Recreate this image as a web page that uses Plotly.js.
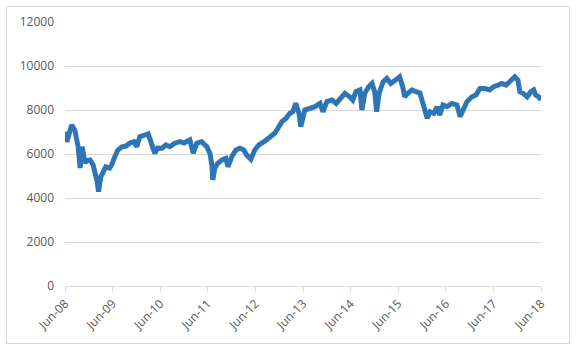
<!DOCTYPE html>
<html>
<head>
<meta charset="utf-8">
<script src="https://cdn.plot.ly/plotly-3.0.1.min.js"></script>
<style>
html,body{margin:0;padding:0;background:#fff;}
#wrap{position:relative;width:578px;height:351px;}
#chart{width:578px;height:351px;}
#frame{position:absolute;left:6px;top:6px;width:564px;height:338px;border:1px solid #d9d9d9;box-sizing:border-box;pointer-events:none;}
</style>
</head>
<body>
<div id="wrap"><div id="chart"></div><div id="frame"></div></div>
<script>
const dates = [
"2008-06-01","2008-06-15","2008-07-22","2008-08-15","2008-09-10","2008-09-25","2008-10-10","2008-11-01","2008-11-15","2008-12-10",
"2009-01-03","2009-01-18","2009-02-03","2009-02-13","2009-03-03","2009-03-18","2009-04-10","2009-05-10","2009-05-25","2009-06-18",
"2009-07-12","2009-08-12","2009-09-12","2009-10-12","2009-11-12","2009-12-03","2009-12-27","2010-03-01","2010-03-28","2010-04-21",
"2010-05-12","2010-06-15","2010-07-15","2010-08-15","2010-09-21","2010-11-01","2010-12-01","2011-01-15","2011-02-10","2011-03-10",
"2011-04-15","2011-05-25","2011-06-18","2011-07-03","2011-07-10","2011-07-25","2011-08-18","2011-09-18","2011-10-18","2011-11-03",
"2011-12-03","2012-01-03","2012-02-03","2012-03-03","2012-03-27","2012-04-27","2012-05-27","2012-06-27","2012-08-06","2012-09-06",
"2012-10-06","2012-10-27","2012-11-21","2012-12-21","2013-01-21","2013-02-21","2013-03-15","2013-04-06","2013-05-01","2013-05-15",
"2013-06-15","2013-07-25","2013-09-01","2013-10-10","2013-11-01","2013-12-01","2014-01-10","2014-02-10","2014-03-10","2014-04-18",
"2014-05-25","2014-06-18","2014-07-12","2014-08-12","2014-08-27","2014-09-18","2014-10-18","2014-11-12","2014-12-03","2014-12-18",
"2015-01-06","2015-02-06","2015-03-06","2015-04-06","2015-05-12","2015-06-12","2015-07-06","2015-07-21","2015-08-15","2015-09-15",
"2015-10-15","2015-11-15","2015-12-01","2015-12-21","2016-01-10","2016-02-01","2016-03-01","2016-03-25","2016-04-15","2016-05-10",
"2016-06-10","2016-07-18","2016-08-25","2016-09-18","2016-10-10","2016-11-10","2016-12-18","2017-01-18","2017-02-18","2017-03-27",
"2017-05-03","2017-06-03","2017-07-06","2017-08-06","2017-09-06","2017-10-06","2017-11-12","2017-12-06","2017-12-21","2018-01-15",
"2018-02-15","2018-03-15","2018-04-06","2018-04-21","2018-05-15","2018-06-01"
];
const values = [
7010,6550,7320,7090,6330,5360,6330,5590,5700,5730,
5500,5200,4740,4290,4970,5140,5420,5360,5500,5880,
6180,6330,6360,6500,6560,6330,6790,6910,6410,6030,
6270,6260,6410,6330,6490,6560,6500,6640,6040,6490,
6560,6330,6030,5500,4820,5350,5580,5730,5800,5420,
5880,6180,6260,6180,5950,5760,6180,6410,6560,6710,
6790,6940,7170,7470,7620,7850,7920,8300,7850,7240,
8000,8080,8150,8300,7920,8380,8450,8300,8530,8760,
8600,8450,8830,8910,8000,8760,9060,9210,8830,7920,
8760,9290,9440,9210,9360,9510,9060,8600,8760,8910,
8830,8770,8450,8000,7620,7920,7850,8150,7770,8230,
8150,8300,8230,7700,8000,8380,8600,8680,8980,8980,
8910,9060,9130,9210,9130,9290,9510,9360,8830,8760,
8600,8830,8910,8680,8600,8450
];
const tickDates = ["2008-06-01","2009-06-01","2010-06-01","2011-06-01","2012-06-01","2013-06-01","2014-06-01","2015-06-01","2016-06-01","2017-06-01","2018-06-01"];
const tickLabels = ["Jun-08","Jun-09","Jun-10","Jun-11","Jun-12","Jun-13","Jun-14","Jun-15","Jun-16","Jun-17","Jun-18"];
const yTicks = [0,2000,4000,6000,8000,10000,12000];

const trace = {
  x: dates, y: values, type: 'scatter', mode: 'lines',
  line: {color: '#2e75b6', width: 5, shape: 'linear'},
  hoverinfo: 'skip', showlegend: false
};
const font = {family: 'Open Sans, Liberation Sans, sans-serif', size: 12, color: '#595959'};
const layout = {
  width: 578, height: 351,
  margin: {l: 65, r: 37, t: 22, b: 65, pad: 0},
  paper_bgcolor: '#ffffff', plot_bgcolor: '#ffffff',
  font: font,
  showlegend: false,
  xaxis: {
    type: 'date', range: ['2008-06-01','2018-06-01'],
    tickmode: 'array', tickvals: tickDates, ticktext: tickLabels,
    tickangle: -45, ticks: 'outside', ticklen: 5, tickcolor: '#d9d9d9', tickwidth: 1,
    showgrid: false, showline: true, linecolor: '#d9d9d9', linewidth: 1,
    zeroline: false, tickfont: font, fixedrange: true
  },
  yaxis: {
    range: [0, 12000], tickmode: 'array', tickvals: yTicks,
    ticktext: yTicks.map(String),
    showgrid: true, gridcolor: '#d9d9d9', gridwidth: 1,
    zeroline: false, showline: false, ticks: '',
    ticklabelstandoff: 10, tickfont: font, fixedrange: true
  }
};
Plotly.newPlot('chart', [trace], layout, {displayModeBar: false, staticPlot: true});
</script>
</body>
</html>
